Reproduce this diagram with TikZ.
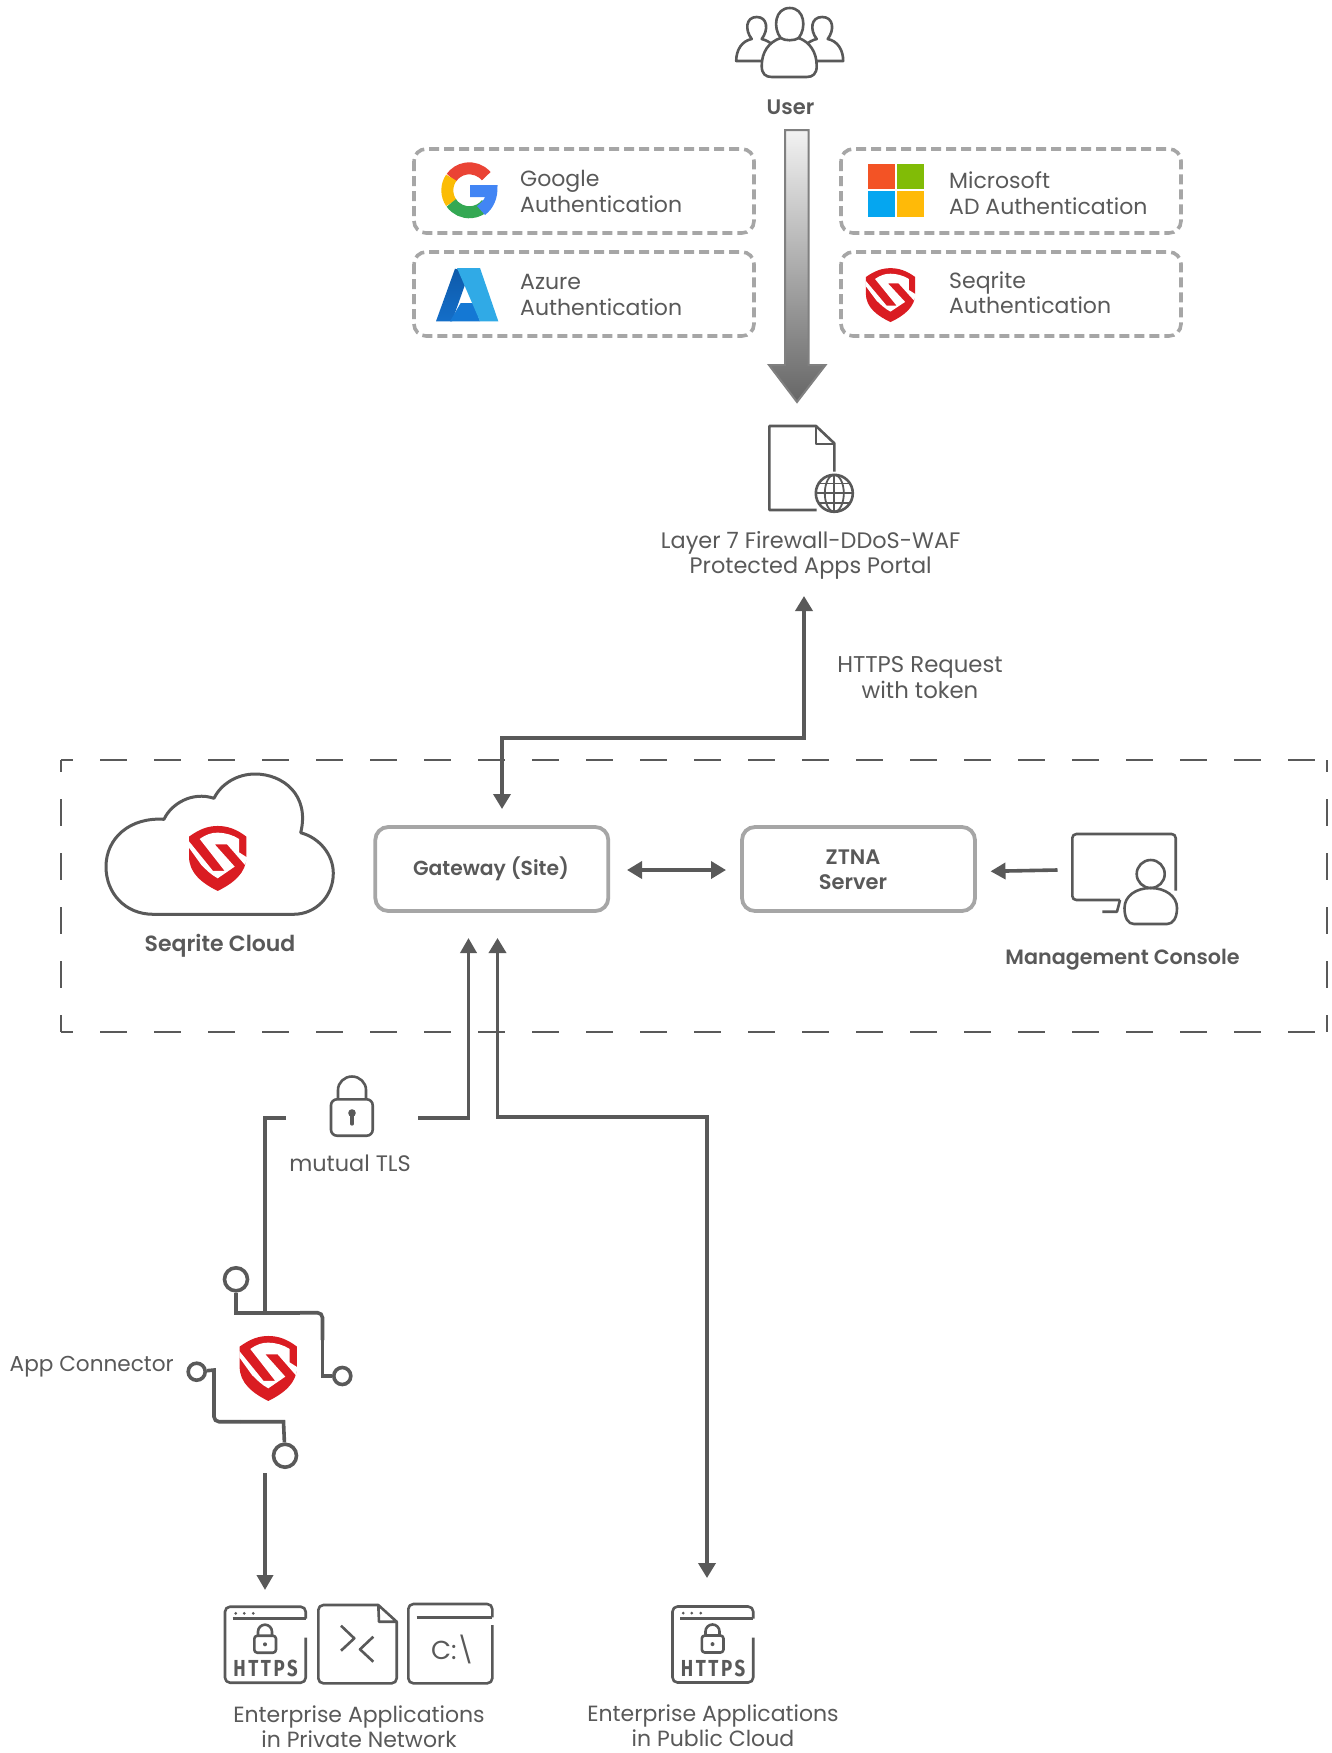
\documentclass[tikz,border=0pt]{standalone}
\usepackage{graphicx}
\usepackage{fontspec}
\setmainfont{Poppins}[BoldFont={Poppins SemiBold}]
\newfontfamily\httpsfont[LetterSpace=14]{Fira Sans}
\usetikzlibrary{arrows.meta,positioning}
\definecolor{ink}{HTML}{595959}
\definecolor{boxgray}{HTML}{A6A6A6}
\definecolor{seqred}{HTML}{DA1C22}
\definecolor{gred}{RGB}{234,67,53}
\definecolor{gyellow}{RGB}{251,188,5}
\definecolor{ggreen}{RGB}{52,168,83}
\definecolor{gblue}{RGB}{66,133,244}
\definecolor{azdark}{RGB}{14,90,170}
\definecolor{azdarkb}{RGB}{20,110,200}
\definecolor{azmid}{RGB}{20,120,212}
\definecolor{azlight}{RGB}{48,170,230}
\definecolor{msr}{RGB}{243,83,37}
\definecolor{msg}{RGB}{129,188,6}
\definecolor{msb}{RGB}{5,166,240}
\definecolor{msy}{RGB}{255,186,8}
\tikzset{
  lbl/.style={inner sep=0pt,text=ink,align=center,font=\fontsize{22}{25.5}\selectfont},
  lblb/.style={lbl,font=\fontsize{21}{25.5}\selectfont\bfseries},
  lbll/.style={lbl,align=left,anchor=west},
  authbox/.style={draw=boxgray,line width=3.6pt,rounded corners=12pt,dash pattern=on 10pt off 5pt},
  srvbox/.style={draw=boxgray,line width=3.8pt,rounded corners=13pt,minimum width=233pt,minimum height=84pt,inner sep=0pt},
  conn/.style={draw=ink,line width=3.6pt},
  arr/.style={conn,-{Triangle[length=15pt,width=16pt]}},
  darr/.style={conn,{Triangle[length=15pt,width=17pt]}-{Triangle[length=15pt,width=17pt]}},
  icon/.style={draw=ink,line width=2.6pt,line join=round},
  iconthin/.style={draw=ink,line width=1.8pt},
  circ/.style={draw=ink,line width=3.6pt,fill=white,circle,inner sep=0pt},
  zone/.style={draw=ink,line width=1.3pt,dash pattern=on 27pt off 27pt,dash phase=15pt},
}
\newcommand{\seqshield}[4]{%
\begin{scope}[shift={(#1,#2)},xscale=#3/3,yscale=#4/3,shift={(-114,-130)}]
\fill[seqred] (28,65) .. controls (60,42) and (85,33) .. (114,33) .. controls (143,33) and (170,42) .. (200,65) -- (200,125) .. controls (200,175) and (160,205) .. (114,228) .. controls (68,205) and (28,175) .. (28,125) -- cycle;
\fill[white] (60,72) .. controls (80,58) and (95,53) .. (114,53) .. controls (135,53) and (160,60) .. (178,72) -- (178,112) -- (203,128) -- (196,150) -- (142,88) -- (105,88) -- (165,155) -- (114,190) .. controls (95,180) and (80,165) .. (65,150) -- (27,97) -- (27,78) -- (100,168) -- (135,168) -- cycle;
\end{scope}}
\newcommand{\browser}[2]{%
\begin{scope}[shift={(#1,#2)}]
\draw[icon,rounded corners=5pt] (80.7,31) -- (80.7,76) -- (0,76) -- (0,0) -- (80.7,0) -- (80.7,12);
\draw[icon] (7.5,12) -- (80.7,12);
\fill[ink] (10.7,6.6) circle (1.5pt) (19.3,6.6) circle (1.5pt) (28.3,6.6) circle (1.5pt);
\draw[icon,rounded corners=3pt] (29.3,29) rectangle (51,46);
\draw[icon] (33,29) -- (33,25) arc[start angle=180,end angle=0,radius=7pt] -- (47,29);
\fill[ink] (40,37.6) circle (2pt);
\node[inner sep=0pt,text=ink,font=\httpsfont\fontsize{19}{19}\selectfont\bfseries] at (40.5,62) {\scalebox{0.98}[1.22]{HTTPS}};
\end{scope}}
\begin{document}
\begin{tikzpicture}[x=1pt,y=-1pt]
\useasboundingbox (0,0) rectangle (1332,1753);
\fill[white] (0,0) rectangle (1332,1753);

% user icon
\begin{scope}[xshift=-3.3pt]
\draw[icon] (773,61) -- (739.5,61) .. controls (739.5,50) and (745,41) .. (755,39) .. controls (748,30) and (749,17) .. (760,17) .. controls (771,17) and (772,30) .. (765,39) .. controls (769,40) and (773,42) .. (776,45);
\draw[icon] (812,61) -- (846.5,61) .. controls (846.5,50) and (841,41) .. (831,39) .. controls (838,30) and (837,17) .. (825.5,17) .. controls (814,17) and (813,30) .. (820,39) .. controls (816,40) and (812,42) .. (809,45);
\draw[icon,fill=white] (793,8) .. controls (778,8) and (776,28) .. (784,38) .. controls (772,42) and (765,52) .. (765,66) .. controls (765,74) and (769,77) .. (775,77) -- (810,77) .. controls (816,77) and (820,74) .. (820,66) .. controls (820,52) and (813,42) .. (802,38) .. controls (810,28) and (808,8) .. (793,8) -- cycle;
\draw[icon] (784,38) .. controls (788,41) and (798,41) .. (802,38);
\end{scope}
\node[lblb] (user) at (790.5,107) {User};

% auth boxes
\draw[authbox] (414,149) rectangle (754,233);
\draw[authbox] (414,252) rectangle (754,336);
\draw[authbox] (841,149) rectangle (1181,233);
\draw[authbox] (841,252) rectangle (1181,336);
\node[lbll] (google) at (520,191.5) {Google\\Authentication};
\node[lbll] (azure) at (520,295) {Azure\\Authentication};
\node[lbll] (ms) at (949,193) {Microsoft\\AD Authentication};
\node[lbll] (seq) at (949,292.5) {Seqrite\\Authentication};

% google logo
\draw[line width=12pt,draw=gred] (486.2,176.2) arc[start angle=40,end angle=145,radius=22pt];
\draw[line width=12pt,draw=gyellow] (451.3,177.7) arc[start angle=145,end angle=215,radius=22pt];
\draw[line width=12pt,draw=ggreen] (451.3,202.9) arc[start angle=215,end angle=320,radius=22pt];
\fill[gblue] (470,185) -- (497.5,185) .. controls (498,198) and (494,208) .. (485,215) -- (477,206) .. controls (481,203) and (484,200) .. (485,197) -- (470,197) -- cycle;

% azure logo
\shade[top color=azdark,bottom color=azdarkb] (455,268.7) -- (469.5,272) -- (452,321.3) -- (436,321.3) -- cycle;
\fill[azmid] (460.7,303) -- (473.5,303) -- (480,321.3) -- (450,321.3) -- cycle;
\fill[azlight] (457,268) -- (480,268) -- (498.3,321.3) -- (480,321.3) -- cycle;

% microsoft logo
\fill[msr] (868,164) rectangle (895,189);
\fill[msg] (896.5,164) rectangle (924,189);
\fill[msb] (868,190.5) rectangle (895,217);
\fill[msy] (896.5,190.5) rectangle (924,217);

\seqshield{890.5}{295}{0.86}{0.83}

% big grey arrow
\shadedraw[top color=black!5,bottom color=black!60,draw=black!50,line width=2pt,line join=miter]
 (785,130) -- (808.5,130) -- (808.5,365) -- (825.5,365) -- (797,402) -- (769,365) -- (785,365) -- cycle;

% portal
\draw[icon] (834.3,471.7) -- (834.3,443.3) -- (816,426) -- (769.3,426) -- (769.3,510) -- (816.7,510);
\draw[icon] (816,426) -- (816,444) -- (834.3,444);
\draw[icon,fill=white] (834.3,493.3) circle (18.5pt);
\draw[iconthin] (834.3,474.8) -- (834.3,511.8) (816,493.3) -- (852.8,493.3) (819,483.5) -- (849.6,483.5) (819,503) -- (849.6,503);
\draw[iconthin] (834.3,493.3) ellipse (9.5pt and 18.5pt);
\node[lbl,font=\fontsize{22.4}{25.5}\selectfont] (portal) at (810.7,555.5) {Layer 7 Firewall-DDoS-WAF\\Protected Apps Portal};
\node[lbl,font=\fontsize{22.8}{25.5}\selectfont] (https) at (920,677.5) {HTTPS Request\\with token};

% zone
\draw[zone] (61,760) -- (1327,760);
\draw[zone] (61,1032) -- (1327,1032);
\draw[zone] (61,760) -- (61,1032);
\draw[zone] (1327,760) -- (1327,1032);

% cloud
\draw[icon,line width=3pt,fill=white] (153.3,914.3) .. controls (125,914.3) and (106,893) .. (106,866.7) .. controls (106,838) and (130,817) .. (164,819.3) .. controls (171,804) and (192,791) .. (214,798.3) .. controls (221,784) and (237,774) .. (255,774) .. controls (283,774) and (310,795) .. (300.7,832.7) .. controls (320,838) and (333.3,855) .. (333.3,873.3) .. controls (333.3,896) and (316,914.3) .. (293.3,914.3) -- cycle;
\seqshield{217.7}{858.3}{1}{1}
\node[lblb,font=\fontsize{22}{25.5}\selectfont\bfseries] (cloud) at (220,945.5) {Seqrite Cloud};

% servers
\node[srvbox] (gw) at (491.8,869) {};
\node[srvbox] (ztna) at (858.5,869) {};
\node[lblb,font=\fontsize{20.3}{25.5}\selectfont\bfseries] (gwlbl) at (491,868.5) {Gateway (Site)};
\node[lblb] (ztnalbl) at (853,869.5) {ZTNA\\Server};
\coordinate (portalin) at (804,596);
\coordinate (gwtop) at (502,809);
\draw[darr] (portalin) -- (804,738) -- (502,738) -- (gwtop);
\coordinate (gwr) at (627,870);
\coordinate (ztl) at (726,870);
\draw[darr] (gwr) -- (ztl);

% console
\coordinate (consoleout) at (1057.5,870);
\coordinate (ztr) at (990.5,871.3);
\draw[arr] (consoleout) -- (ztr);
\begin{scope}[xshift=-1pt]
\draw[icon,rounded corners=4pt] (1176.7,890.7) -- (1176.7,834) -- (1073.3,834) -- (1073.3,900) -- (1121,900);
\draw[icon] (1121,900) -- (1118,911.7) -- (1103.3,911.7);
\draw[icon] (1151.7,874) circle (14pt);
\draw[icon] (1125.5,908) .. controls (1125.5,896) and (1137,888) .. (1151.7,888) .. controls (1166,888) and (1178,896) .. (1178,908) .. controls (1178,918) and (1174,924) .. (1168,924) -- (1135,924) .. controls (1129,924) and (1125.5,918) .. (1125.5,908) -- cycle;
\end{scope}
\node[lblb,font=\fontsize{20.7}{25.5}\selectfont\bfseries] (console) at (1122.5,959.5) {Management Console};

% mutual TLS
\draw[icon,rounded corners=6pt] (331,1099.3) rectangle (372.7,1135.7);
\draw[icon] (338,1099.3) -- (338,1090) arc[start angle=180,end angle=0,x radius=14pt,y radius=13.5pt] -- (366,1099.3);
\fill[ink] (352,1113) circle (3.8pt);
\draw[ink,line width=3.2pt,line cap=round] (352,1113) -- (352,1124);
\node[lbl,font=\fontsize{22.4}{25.5}\selectfont] (mtls) at (350,1163) {mutual TLS};
\coordinate (mtlsl) at (286,1118);
\coordinate (mtlsr) at (418,1118);
\coordinate (gwl) at (468.5,938);
\coordinate (gwb) at (497.5,938);
\coordinate (pub) at (707,1578);
\coordinate (privin) at (265,1590);
\coordinate (privs) at (265,1473);
\draw[arr] (mtlsr) -- (468.5,1118) -- (gwl);
\draw[darr] (gwb) -- (497.5,1117) -- (707,1117) -- (pub);
\draw[conn] (mtlsl) -- (265,1118) -- (265,1312.7);

% app connector
\node[circ,minimum size=23pt] (c1) at (236,1279.3) {};
\node[circ,minimum size=17pt] (c2) at (342.3,1376) {};
\node[circ,minimum size=17pt] (c3) at (196.7,1371.7) {};
\node[circ,minimum size=23pt] (c4) at (285,1455.7) {};
\coordinate (t1) at (300,1312.7);
\coordinate (t2) at (322.5,1340);
\coordinate (t3) at (214,1395);
\coordinate (t4) at (240,1421.7);
\draw[conn] (c1) -- (236,1312.7) -- (t1);
\draw[conn,rounded corners=5pt] (t1) -- (322.5,1312.7) -- (t2);
\draw[conn] (t2) -- (322.5,1376) -- (c2);
\draw[conn] (c3) -- (214,1370) -- (t3);
\draw[conn,rounded corners=5pt] (t3) -- (214,1421.7) -- (t4);
\draw[conn] (t4) -- (283.5,1421.7) -- (c4);
\seqshield{268.3}{1368.3}{1}{1}
\node[lbl,font=\fontsize{21.6}{25.5}\selectfont] (appc) at (91.7,1367) {App Connector};
\draw[arr] (privs) -- (privin);

% bottom icons
\browser{225}{1606.7}
\browser{672.5}{1606.5}
\draw[icon,rounded corners=5pt] (378.3,1605) -- (318.3,1605) -- (318.3,1683.3) -- (396.7,1683.3) -- (396.7,1621.7);
\draw[icon] (378.3,1605) -- (396.7,1621.7) -- (379,1621.7) -- cycle;
\draw[icon] (341,1625.7) -- (354.3,1638.3) -- (341,1650.7);
\draw[icon] (373.3,1636.7) -- (360,1649.3) -- (373.3,1661.7);
\draw[icon,rounded corners=5pt] (492.3,1625) -- (492.3,1683.3) -- (408.3,1683.3) -- (408.3,1604) -- (492.3,1604) -- (492.3,1617.3);
\draw[icon] (416.7,1617.3) -- (492.3,1617.3);
\node[inner sep=0pt,text=ink,font=\fontsize{26}{26}\selectfont] (cdrive) at (452.5,1649) {C:\textbackslash};
\node[lbl] (privlbl) at (359,1726.5) {Enterprise Applications\\in Private Network};
\node[lbl] (publbl) at (713,1725.5) {Enterprise Applications\\in Public Cloud};
\end{tikzpicture}
\end{document}
